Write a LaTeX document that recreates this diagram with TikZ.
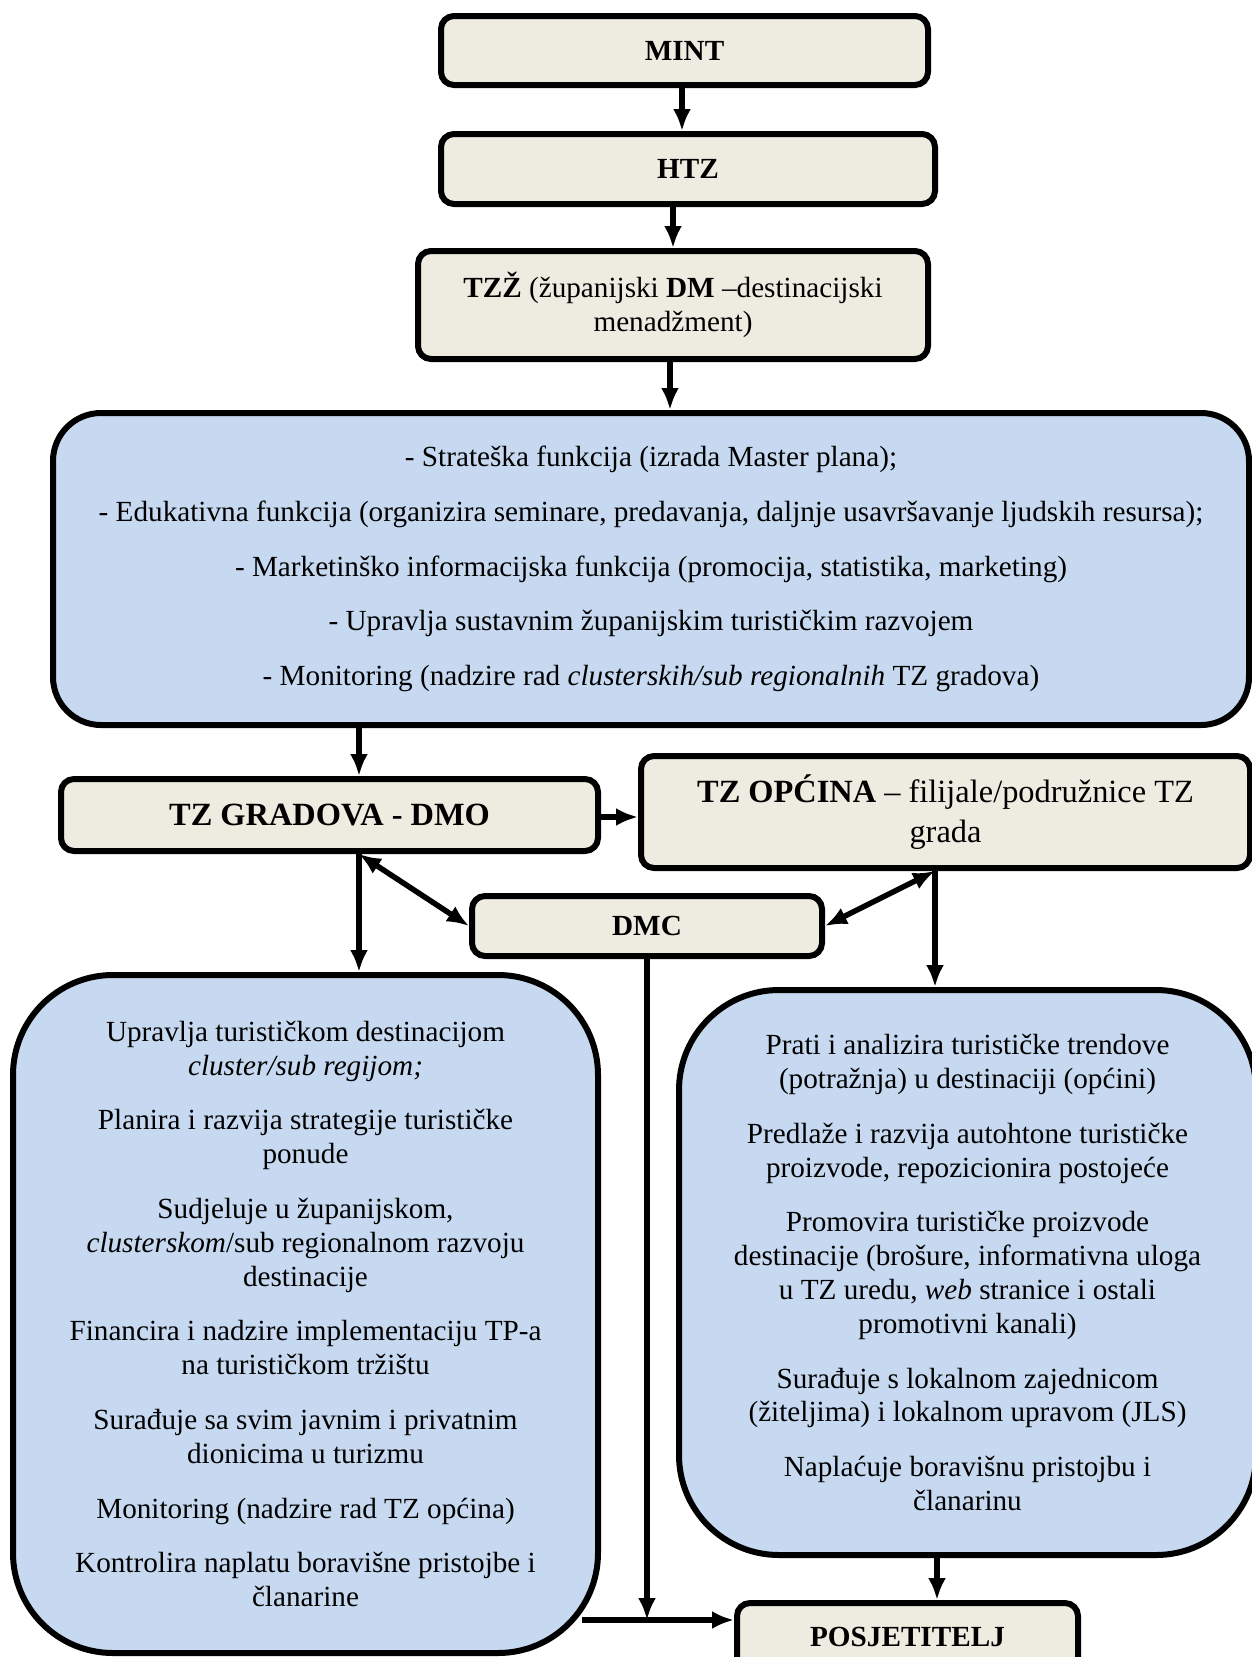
\documentclass[tikz,border=0pt]{standalone}
\usepackage{fontspec}
\setmainfont{Liberation Serif}
\usepackage{tikz}
\usetikzlibrary{shapes,arrows.meta}
\definecolor{krem}{HTML}{EEECE1}
\definecolor{plava}{HTML}{C6D9F1}
\tikzstyle{box} = [rectangle, draw, fill=krem, rounded corners=13pt, line width=6pt,
align=center, inner sep=0pt, font=\fontsize{29.2}{33.8}\selectfont]
\tikzstyle{bigbox} = [box, font=\fontsize{32.4}{40}\selectfont]
\tikzstyle{panel} = [rectangle, draw, fill=plava, rounded corners=100pt, line width=6pt,
align=center, inner sep=0pt, font=\fontsize{29.2}{33.8}\selectfont]
\tikzstyle{line} = [draw, line width=5.5pt, -{Latex[length=22pt,width=18pt]}]
\tikzstyle{both} = [line, {Latex[length=22pt,width=18pt]}-{Latex[length=22pt,width=18pt]}]
\newcommand{\razmak}{\\[21pt]}

\begin{document}
\begin{tikzpicture}[auto]
		\useasboundingbox (0pt,0pt) rectangle (1252pt,-1657pt);
		\clip (0pt,0pt) rectangle (1252pt,-1657pt);
		\node [box, minimum width=487pt, minimum height=69pt] (mint) at (684.5pt,-50.5pt) {\textbf{MINT}};
		\node [box, below of=mint, node distance=118.5pt, xshift=3.5pt, minimum width=494pt, minimum height=70pt] (htz) {\textbf{HTZ}};
		\node [box, below of=htz, node distance=136pt, xshift=-15pt, minimum width=510pt, minimum height=108pt] (tzz)
		{\textbf{TZŽ} (županijski \textbf{DM} –destinacijski\\ menadžment)};
		\node [panel, below of=tzz, node distance=264pt, xshift=-22pt, rounded corners=48pt, minimum width=1196pt, minimum height=312pt] (funkcije)
		{- Strateška funkcija (izrada Master plana);\razmak
		- Edukativna funkcija (organizira seminare, predavanja, daljnje usavršavanje ljudskih resursa);\razmak
		- Marketinško informacijska funkcija (promocija, statistika, marketing)\razmak
		- Upravlja sustavnim županijskim turističkim razvojem\razmak
		- Monitoring (nadzire rad \textit{clusterskih/sub regionalnih} TZ gradova)};
		\node [bigbox, below of=funkcije, node distance=246pt, xshift=-321.5pt, minimum width=537pt, minimum height=72pt] (gradovi) {\textbf{TZ GRADOVA - DMO}};
		\node [bigbox, right of=gradovi, node distance=616pt, yshift=3pt, minimum width=609pt, minimum height=112pt] (opcine)
		{\textbf{TZ OPĆINA} – filijale/podružnice TZ\\ grada};
		\node [box, below of=gradovi, node distance=111pt, xshift=317.5pt, minimum width=350pt, minimum height=60pt] (dmc) {\textbf{DMC}};
		\node [panel, below of=gradovi, node distance=499pt, xshift=-24pt, minimum width=585pt, minimum height=678pt] (zadaciGrad)
		{Upravlja turističkom destinacijom\\ \textit{cluster/sub regijom;}\razmak
		Planira i razvija strategije turističke\\ ponude\razmak
		Sudjeluje u županijskom,\\ \textit{clusterskom}/sub regionalnom razvoju\\ destinacije\razmak
		Financira i nadzire implementaciju TP-a\\ na turističkom tržištu\razmak
		Surađuje sa svim javnim i privatnim\\ dionicima u turizmu\razmak
		Monitoring (nadzire rad TZ općina)\razmak
		Kontrolira naplatu boravišne pristojbe i\\ članarine};
		\node [panel, below of=opcine, node distance=460.5pt, xshift=22pt, minimum width=577pt, minimum height=565pt] (zadaciOpcina)
		{Prati i analizira turističke trendove\\ (potražnja) u destinaciji (općini)\razmak
		Predlaže i razvija autohtone turističke\\ proizvode, repozicionira postojeće\razmak
		Promovira turističke proizvode\\ destinacije (brošure, informativna uloga\\ u TZ uredu, \textit{web} stranice i ostali\\ promotivni kanali)\razmak
		Surađuje s lokalnom zajednicom\\ (žiteljima) i lokalnom upravom (JLS)\razmak
		Naplaćuje boravišnu pristojbu i\\ članarinu};
		\node [box, below of=zadaciOpcina, node distance=364.5pt, xshift=-60pt, minimum width=341pt, minimum height=68pt] (posjetitelj) {\textbf{POSJETITELJ}};
		\coordinate (izGrada) at ([xshift=29.5pt]gradovi.south);
		\coordinate (izOpcine) at ([xshift=-10.5pt]opcine.south);
		\coordinate (ulaz) at ([yshift=17pt]posjetitelj.west);
		\path [line] ([xshift=-2.5pt]mint.south) -- ([xshift=-2.5pt]mint.south |- htz.north);
		\path [line] (htz.south -| tzz) -- (tzz);
		\path [line] ([xshift=-3pt]tzz.south) -- ([xshift=-3pt]tzz.south |- funkcije.north);
		\path [line] (funkcije.south -| izGrada) -- (izGrada |- gradovi.north);
		\path [line] ([yshift=-2pt]gradovi.east) -- ([yshift=-2pt]gradovi.east -| opcine.west);
		\path [both] (izGrada) -- (dmc.west);
		\path [both] (izOpcine) -- (dmc.east);
		\path [line] (izGrada) -- (izGrada |- zadaciGrad.north);
		\path [line] (izOpcine) -- (izOpcine |- zadaciOpcina.north);
		\path [line] (dmc.south) -- (dmc.south |- ulaz);
		\path [line] ([xshift=-19pt]zadaciGrad.east |- ulaz) -- (ulaz);
		\path [line] ([xshift=29.5pt]posjetitelj.north |- zadaciOpcina.south) -- ([xshift=29.5pt]posjetitelj.north);
	\end{tikzpicture}
\end{document}
